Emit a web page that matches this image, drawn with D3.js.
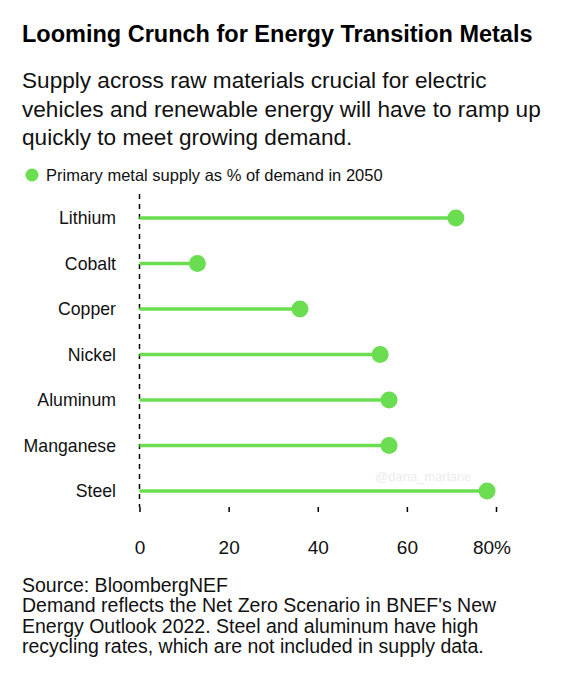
<!DOCTYPE html>
<html><head><meta charset="utf-8">
<script src="https://cdn.jsdelivr.net/npm/d3@7"></script>
<style>body{margin:0;background:#fff}svg{display:block;font-family:"Liberation Sans",Arial,sans-serif}</style>
</head><body>
<script>
const categories = ["Lithium","Cobalt","Copper","Nickel","Aluminum","Manganese","Steel"];
const supplyPct = [71,13,36,54,56,56,78];
const tickValues = [0,20,40,60,80];
const tickLabels = ["0","20","40","60","80%"];
const title = "Looming Crunch for Energy Transition Metals";
const subtitle = ["Supply across raw materials crucial for electric","vehicles and renewable energy will have to ramp up","quickly to meet growing demand."];
const legendLabel = "Primary metal supply as % of demand in 2050";
const footer = ["Source: BloombergNEF","Demand reflects the Net Zero Scenario in BNEF's New","Energy Outlook 2022. Steel and aluminum have high","recycling rates, which are not included in supply data."];
const green = "#6ade50";

const W=575,H=680;
const svg=d3.select("body").append("svg").attr("width",W).attr("height",H);

svg.append("text").attr("x",22).attr("y",42).attr("font-size",23.5).attr("font-weight","bold").attr("fill","#000").text(title);
svg.append("g").selectAll("text").data(subtitle).join("text")
  .attr("x",22).attr("y",(d,i)=>88+i*28.5).attr("font-size",22.6).attr("fill","#111").text(d=>d);

// legend
svg.append("circle").attr("cx",32).attr("cy",175).attr("r",6.5).attr("fill",green);
svg.append("text").attr("x",46).attr("y",181).attr("font-size",16.5).attr("fill","#111").text(legendLabel);

const x=d3.scaleLinear().domain([0,80]).range([139.5,496]);
const y=d3.scalePoint().domain(categories).range([218,491]);

// axis ticks
const axis=d3.axisBottom(x).tickValues(tickValues).tickSize(5).tickFormat((d,i)=>tickLabels[i]);
const ag=svg.append("g").attr("transform","translate(0,507)").call(axis);
ag.select(".domain").remove();
ag.selectAll(".tick line").attr("stroke","#000").attr("stroke-width",1.5);
ag.selectAll(".tick text").attr("font-size",19).attr("fill","#111").attr("y",47).attr("dy",0)
  .attr("font-family","Liberation Sans,Arial,sans-serif")
  .attr("dx",(d,i)=>i===tickValues.length-1?-4.5:0);

// zero dashed line
svg.append("line").attr("x1",x(0)).attr("x2",x(0)).attr("y1",194).attr("y2",507)
  .attr("stroke","#000").attr("stroke-width",1.5).attr("stroke-dasharray","5,5");

// watermark
svg.append("text").attr("x",375).attr("y",481).attr("font-size",13).attr("fill","#ececec").text("@dana_marlane");

const rows=svg.append("g").selectAll("g").data(categories).join("g");
rows.append("line").attr("x1",x(0)).attr("x2",(d,i)=>x(supplyPct[i])).attr("y1",d=>y(d)).attr("y2",d=>y(d))
  .attr("stroke",green).attr("stroke-width",3.5);
rows.append("circle").attr("cx",(d,i)=>x(supplyPct[i])).attr("cy",d=>y(d)).attr("r",8.5).attr("fill",green);
rows.append("text").attr("x",116).attr("y",d=>y(d)).attr("dy","0.36em").attr("text-anchor","end")
  .attr("font-size",17.7).attr("fill","#111").text(d=>d);

svg.append("g").selectAll("text").data(footer).join("text")
  .attr("x",22).attr("y",(d,i)=>592+i*20.4).attr("font-size",19.5).attr("fill","#111").text(d=>d);
</script>
</body></html>
